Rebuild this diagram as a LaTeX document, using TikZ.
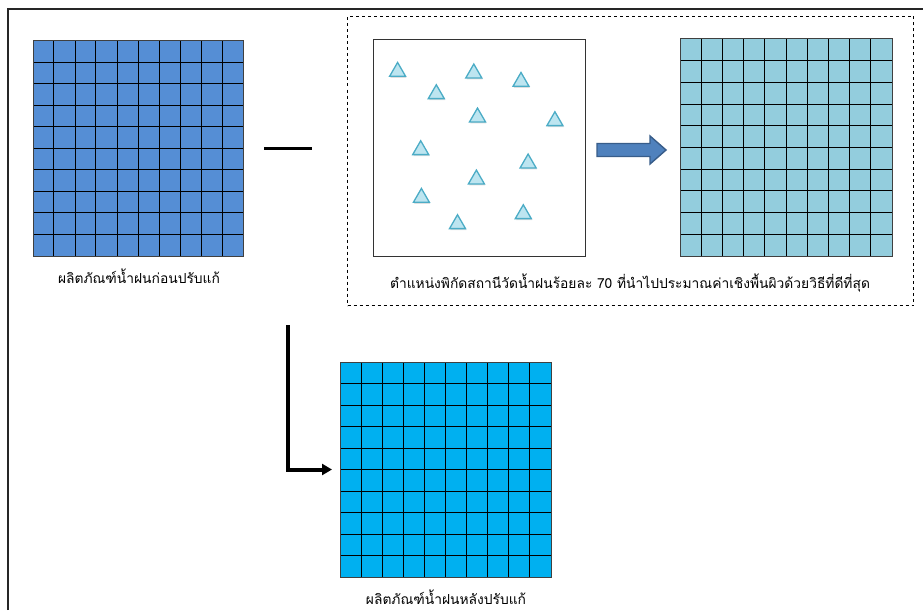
\documentclass[tikz,border=0pt]{standalone}
\usepackage{fontspec}
\newfontfamily\thaifont[Script=Thai]{Loma}
\usetikzlibrary{calc,shapes.geometric,arrows.meta,shadows}

\definecolor{gridA}{HTML}{558ED5}
\definecolor{gridB}{HTML}{93CDDD}
\definecolor{gridC}{HTML}{00B0F0}
\definecolor{stationfill}{HTML}{BDE5F0}
\definecolor{stationline}{HTML}{4BACC6}
\definecolor{arrowfill}{HTML}{4F81BD}
\definecolor{arrowline}{HTML}{385D8A}

\tikzset{
  x=1pt, y=-1pt,
  gridbox/.style={draw=black!75, line width=1pt, inner sep=0pt, outer sep=0pt},
  gridline/.style={draw=black, line width=1pt},
  station/.style={regular polygon, regular polygon sides=3, minimum size=18.5pt,
    inner sep=0pt, fill=stationfill, draw=stationline, line width=1.3pt,
    drop shadow={shadow xshift=0.8pt, shadow yshift=-1.5pt, opacity=0.25}},
  caption/.style={font=\thaifont\fontsize{13.8}{16}\selectfont, inner sep=0pt},
}

% draw a 10 x 10 cell grid inside a named node
\newcommand{\cellgrid}[1]{%
  \foreach \k in {1,...,9} {
    \draw[gridline] ($(#1.north west)!\k/10!(#1.north east)$) -- ($(#1.south west)!\k/10!(#1.south east)$);
    \draw[gridline] ($(#1.north west)!\k/10!(#1.south west)$) -- ($(#1.north east)!\k/10!(#1.south east)$);
  }
  \draw[gridbox, fill=none] (#1.north west) rectangle (#1.south east);
}

\begin{document}
\begin{tikzpicture}
  \useasboundingbox (0,0) rectangle (923,610);
  \fill[white] (0,0) rectangle (923,610);

  % page frame
  \draw[line width=2pt, black!85] (7.5,610) -- (7.5,9.5) -- (923,9.5);

  % rainfall product before correction
  \node[gridbox, fill=gridA, minimum width=210pt, minimum height=215pt] (gA) at (138,148.5) {};
  \cellgrid{gA}
  \node[caption] (capA) at (139,276) {ผลิตภัณฑ์น้ำฝนก่อนปรับแก้};

  % minus sign
  \coordinate (m1) at (264,148);
  \coordinate (m2) at (312,148);
  \draw[line width=3pt] (m1) -- (m2);

  % dashed group
  \node[draw, dashed, line width=0.9pt, minimum width=566pt, minimum height=289pt, inner sep=0pt] (grp) at (630.5,161) {};

  % station locations
  \node[draw=black!80, line width=1pt, minimum width=212pt, minimum height=216pt, inner sep=0pt] (stbox) at (479,148) {};
  \foreach \px/\py [count=\n] in {397.6/71.7, 473.8/73.3, 521/81.7, 436.3/94, 477.5/117.3, 554.9/121,
      420.7/150, 528.1/163.3, 476.4/179.3, 421.4/197.7, 523.3/214, 457.5/224}
    \node[station] (s\n) at (\px,\py) {};

  % block arrow
  \coordinate (a1) at (597,143.5);
  \coordinate (a2) at (650,143.5);
  \coordinate (a3) at (650,136);
  \coordinate (a4) at (666,150);
  \coordinate (a5) at (650,164);
  \coordinate (a6) at (650,156.5);
  \coordinate (a7) at (597,156.5);
  \draw[fill=arrowfill, draw=arrowline, line width=1.4pt, line join=miter]
    (a1) -- (a2) -- (a3) -- (a4) -- (a5) -- (a6) -- (a7) -- cycle;

  % interpolated surface
  \node[gridbox, fill=gridB, minimum width=212pt, minimum height=217pt] (gB) at (786,147.5) {};
  \cellgrid{gB}
  \node[caption] (capB) at (630,283) {ตำแหน่งพิกัดสถานีวัดน้ำฝนร้อยละ 70 ที่นำไปประมาณค่าเชิงพื้นผิวด้วยวิธีที่ดีที่สุด};

  % rainfall product after correction
  \node[gridbox, fill=gridC, minimum width=211pt, minimum height=215pt] (gC) at (445.5,469.5) {};
  \cellgrid{gC}
  \node[caption] (capC) at (446,597) {ผลิตภัณฑ์น้ำฝนหลังปรับแก้};

  % elbow connector
  \coordinate (e0) at (287.5,325);
  \draw[line width=4pt, -{Triangle[length=10pt,width=11pt]}, shorten >=8pt]
    (e0) |- (gC.west);
\end{tikzpicture}
\end{document}
